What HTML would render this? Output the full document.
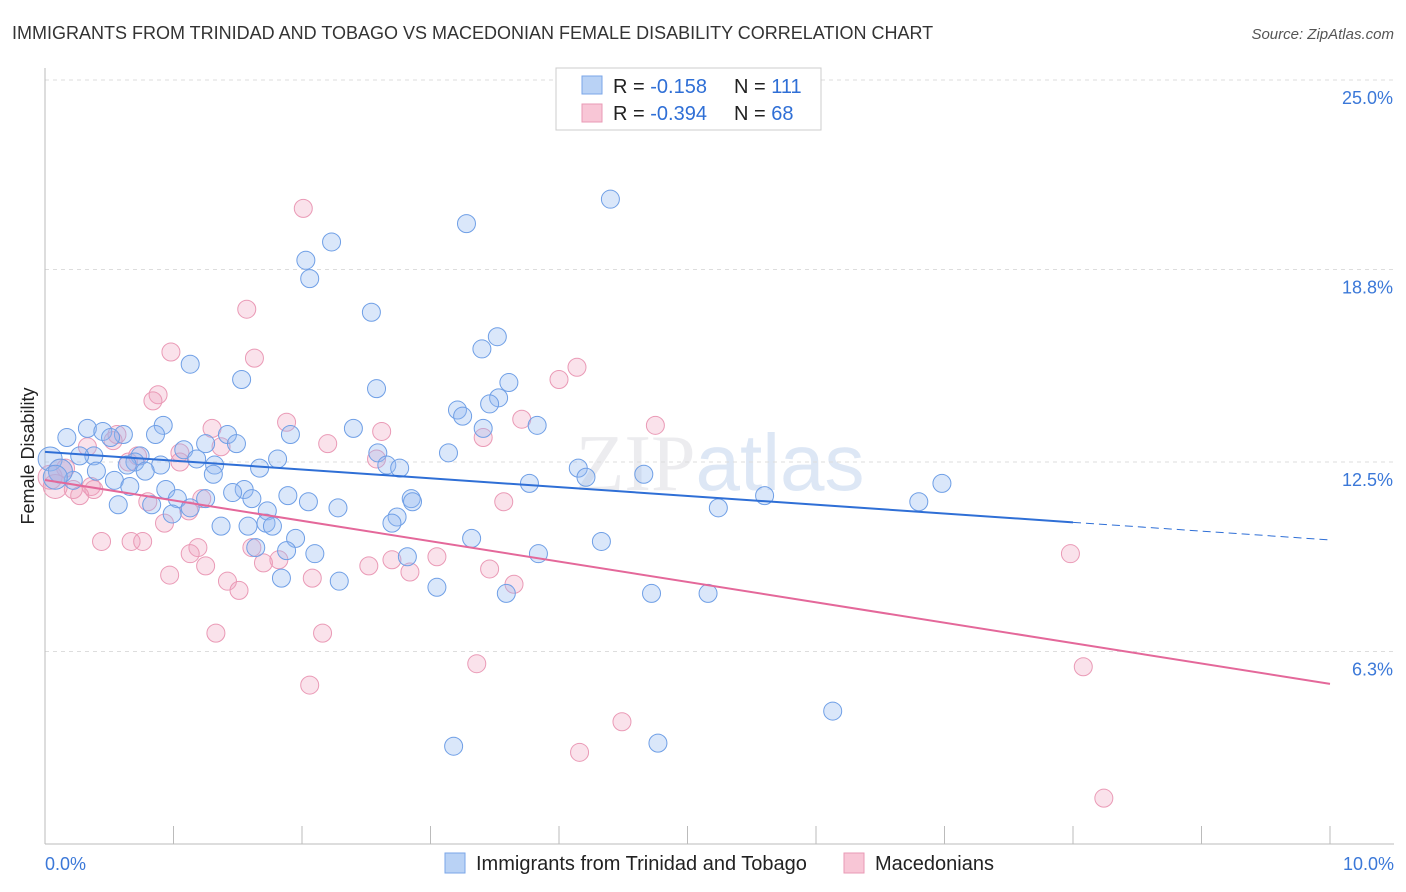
<!DOCTYPE html>
<html><head><meta charset="utf-8"><style>
body{margin:0;background:#fff;font-family:"Liberation Sans",sans-serif}
svg{display:block}
</style></head><body>
<svg id="chart" width="1406" height="892">
<text x="12" y="39" font-size="18" fill="#333">IMMIGRANTS FROM TRINIDAD AND TOBAGO VS MACEDONIAN FEMALE DISABILITY CORRELATION CHART</text>
<text x="1394" y="39" font-size="15" fill="#555" font-style="italic" text-anchor="end">Source: ZipAtlas.com</text>
<text x="34" y="456" font-size="18" fill="#222" transform="rotate(-90 34 456)" text-anchor="middle">Female Disability</text>
<text x="720" y="490" font-size="80" fill="#ececef" text-anchor="middle" font-family="Liberation Serif">ZIP<tspan fill="#dde7f5" font-family="Liberation Sans">atlas</tspan></text>
<g id="grid"></g><g id="axes"></g><g id="pts"></g><g id="trend"></g>
<g>
<rect x="556" y="68" width="265" height="62" fill="#fff" stroke="#ccc"/>
<rect x="582" y="76" width="20" height="18" fill="#b9d2f5" stroke="#7aa6e8"/>
<text x="613" y="93" font-size="20" fill="#222">R = <tspan fill="#2f6fd6">-0.158</tspan></text>
<text x="734" y="93" font-size="20" fill="#222">N = <tspan fill="#2f6fd6">111</tspan></text>
<rect x="582" y="104" width="20" height="18" fill="#f8c6d6" stroke="#e99ab5"/>
<text x="613" y="120" font-size="20" fill="#222">R = <tspan fill="#2f6fd6">-0.394</tspan></text>
<text x="734" y="120" font-size="20" fill="#222">N = <tspan fill="#2f6fd6">68</tspan></text>
</g>
<g>
<rect x="445" y="853" width="20" height="20" fill="#b9d2f5" stroke="#7aa6e8"/>
<text x="476" y="870" font-size="20" fill="#222">Immigrants from Trinidad and Tobago</text>
<rect x="844" y="853" width="20" height="20" fill="#f8c6d6" stroke="#e99ab5"/>
<text x="875" y="870" font-size="20" fill="#222">Macedonians</text>
</g>
</svg>
<script>
const yTicks=[25.0,18.8,12.5,6.3];
const yTickLabels=["25.0%","18.8%","12.5%","6.3%"];
const xTickLabels=["0.0%","10.0%"];
const blueX=[4.40,3.28,2.23,2.03,2.06,2.54,3.52,3.40,1.13,1.53,3.61,2.58,3.53,3.46,3.21,3.25,3.83,0.92,2.40,3.41,0.33,0.45,0.61,0.86,1.42,1.91,0.17,0.51,1.49,1.25,1.08,3.14,2.59,0.38,0.27,0.74,1.18,1.81,0.70,0.90,0.64,1.32,2.66,4.15,2.76,1.67,0.78,0.40,1.31,4.66,4.21,0.54,6.98,0.22,3.77,0.66,1.55,0.94,1.46,5.60,1.89,1.03,1.25,1.61,2.85,2.86,2.05,0.57,0.83,6.80,5.24,2.28,1.13,1.73,0.99,2.74,1.72,2.70,1.37,1.58,1.77,3.32,4.33,1.95,1.64,1.88,2.10,3.84,2.82,1.84,2.29,3.05,4.72,5.16,3.59,6.13,4.77,3.18,0.04,0.12,0.08];
const blueY=[21.1,20.3,19.7,19.1,18.5,17.4,16.6,16.2,15.7,15.2,15.1,14.9,14.6,14.4,14.2,14.0,13.7,13.7,13.6,13.6,13.6,13.5,13.4,13.4,13.4,13.4,13.3,13.3,13.1,13.1,12.9,12.8,12.8,12.7,12.7,12.7,12.6,12.6,12.5,12.4,12.4,12.4,12.4,12.3,12.3,12.3,12.2,12.2,12.1,12.1,12.0,11.9,11.8,11.9,11.8,11.7,11.6,11.6,11.5,11.4,11.4,11.3,11.3,11.3,11.3,11.2,11.2,11.1,11.1,11.2,11.0,11.0,11.0,10.9,10.8,10.7,10.5,10.5,10.4,10.4,10.4,10.0,9.9,10.0,9.7,9.6,9.5,9.5,9.4,8.7,8.6,8.4,8.2,8.2,8.2,4.35,3.3,3.2,12.6,12.2,12.0];
const pinkX=[2.01,1.57,0.98,1.63,4.14,4.00,0.88,0.84,3.71,1.88,4.75,1.30,2.62,0.56,3.41,0.53,2.20,1.37,0.33,1.05,0.72,2.58,0.65,1.05,0.16,0.36,0.38,0.22,0.27,1.22,0.80,3.57,1.12,0.93,0.44,0.67,0.76,1.61,1.19,1.13,3.05,2.70,1.82,1.70,1.25,2.52,3.46,2.84,7.98,0.97,2.08,1.42,3.65,1.51,1.33,2.16,3.36,8.08,2.06,4.49,4.16,8.24,0.04,0.12,0.08];
const pinkY=[20.8,17.5,16.1,15.9,15.6,15.2,14.7,14.5,13.9,13.8,13.7,13.6,13.5,13.4,13.3,13.2,13.1,13.0,13.0,12.8,12.7,12.6,12.5,12.5,12.3,11.7,11.6,11.6,11.4,11.3,11.2,11.2,10.9,10.5,9.9,9.9,9.9,9.7,9.7,9.5,9.4,9.3,9.3,9.2,9.1,9.1,9.0,8.9,9.5,8.8,8.7,8.6,8.5,8.3,6.9,6.9,5.9,5.8,5.2,4.0,3.0,1.5,12.0,12.2,11.7];
const blueTrend=[12.83,9.95];
const pinkTrend=[11.91,5.24];
const NS="http://www.w3.org/2000/svg";
const X=v=>45+v*128.5, Y=v=>844-v*30.56;
function mk(t,a,p){const e=document.createElementNS(NS,t);for(const k in a)e.setAttribute(k,a[k]);p.appendChild(e);return e;}
const grid=document.getElementById('grid'),axes=document.getElementById('axes'),pts=document.getElementById('pts'),tr=document.getElementById('trend');
yTicks.forEach((t,i)=>{
 const l=mk('line',{x1:45,x2:1394,y1:Y(t),y2:Y(t),stroke:'#ddd','stroke-dasharray':'4,4'},grid);
 
 
 const tx=mk('text',{x:1393,y:Y(t)+24,'font-size':18,fill:'#3b78d8','text-anchor':'end'},axes);
 tx.textContent=yTickLabels[i];
 
 
});
const ax=mk('line',{x1:45,x2:45,y1:68,y2:844,stroke:'#bbb'},axes);


const bx=mk('line',{x1:45,x2:1394,y1:844,y2:844,stroke:'#bbb'},axes);


for(let i=0;i<=10;i++){const t=mk('line',{x1:X(i),x2:X(i),y1:826,y2:844,stroke:'#bbb'},axes);
 
 }
[[0,'start',45],[10,'end',1394]].forEach((d,i)=>{const t=mk('text',{x:d[2],y:870,'font-size':18,fill:'#3b78d8','text-anchor':d[1]},axes);t.textContent=xTickLabels[i];
 
 });
pinkX.forEach((v,i)=>{const c=mk('circle',{cx:X(v),cy:Y(pinkY[i]),r:i>=pinkX.length-3?12:9,fill:'rgba(240,160,190,0.3)',stroke:'#ea9ab6','stroke-width':1},pts);
 
 });
blueX.forEach((v,i)=>{const c=mk('circle',{cx:X(v),cy:Y(blueY[i]),r:i>=blueX.length-3?12:9,fill:'rgba(150,185,240,0.35)',stroke:'#6f9fe6','stroke-width':1},pts);
 
 });
const lb=(x)=>blueTrend[0]+(blueTrend[1]-blueTrend[0])*x/10;
const b1=mk('line',{x1:X(0),y1:Y(lb(0)),x2:X(8),y2:Y(lb(8)),stroke:'#2f6fd6','stroke-width':2},tr);


const b2=mk('line',{x1:X(8),y1:Y(lb(8)),x2:X(10),y2:Y(lb(10)),stroke:'#2f6fd6','stroke-width':1,'stroke-dasharray':'8,5'},tr);


const p1=mk('line',{x1:X(0),y1:Y(pinkTrend[0]),x2:X(10),y2:Y(pinkTrend[1]),stroke:'#e4689a','stroke-width':2},tr);


</script>
</body></html>
